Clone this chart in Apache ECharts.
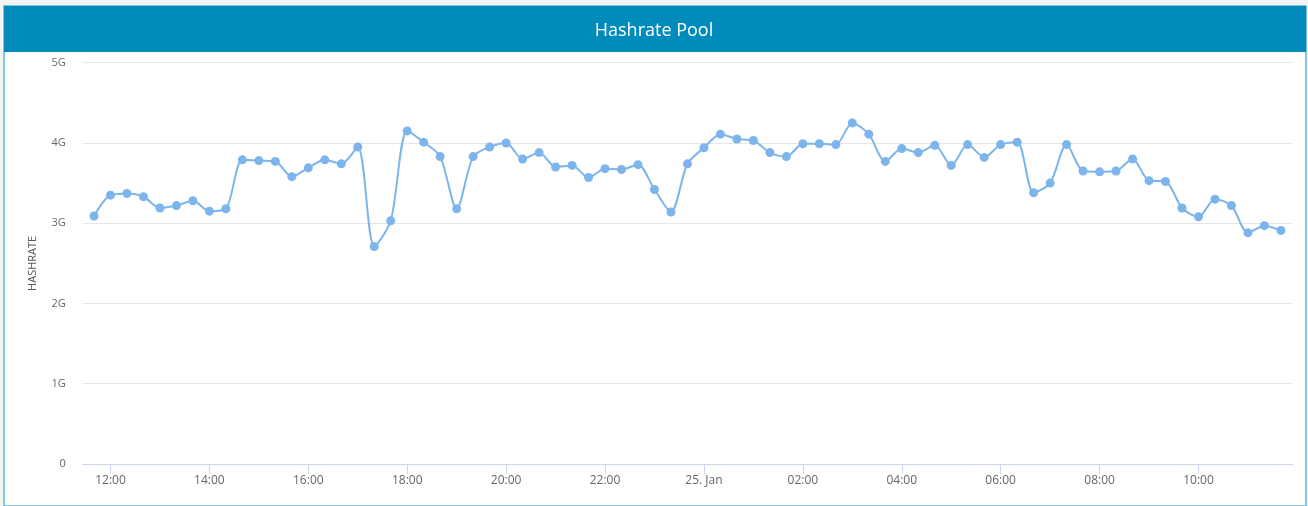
<!DOCTYPE html>
<html>
<head>
<meta charset="utf-8">
<script src="https://cdn.jsdelivr.net/npm/echarts@6/dist/echarts.min.js"></script>
<style>
html,body{margin:0;padding:0;background:#f4f4f4;}
#chart{width:1308px;height:506px;}
</style>
</head>
<body>
<div id="chart"></div>
<script>
// Time: hours since 24 Jan 00:00, one reading every 20 minutes from 11:40
var startHour = 11 + 40 / 60;
var stepHours = 20 / 60;
// Hashrate in G
var hashrate = [
  3.09, 3.35, 3.37, 3.33, 3.19, 3.22, 3.28, 3.15, 3.18, 3.79,
  3.78, 3.77, 3.58, 3.69, 3.79, 3.74, 3.95, 2.71, 3.03, 4.15,
  4.01, 3.83, 3.18, 3.83, 3.95, 4.00, 3.80, 3.88, 3.70, 3.72,
  3.57, 3.68, 3.67, 3.73, 3.42, 3.14, 3.74, 3.94, 4.11, 4.05,
  4.03, 3.88, 3.83, 3.99, 3.99, 3.98, 4.25, 4.11, 3.77, 3.93,
  3.88, 3.97, 3.72, 3.98, 3.82, 3.98, 4.01, 3.38, 3.50, 3.98,
  3.65, 3.64, 3.65, 3.80, 3.53, 3.52, 3.19, 3.08, 3.30, 3.22,
  2.88, 2.97, 2.91
];
var tickHours = [12, 14, 16, 18, 20, 22, 24, 26, 28, 30, 32, 34];
var tickLabels = ['12:00', '14:00', '16:00', '18:00', '20:00', '22:00', '25. Jan', '02:00', '04:00', '06:00', '08:00', '10:00'];
var yTicks = [0, 1, 2, 3, 4, 5];

var seriesData = hashrate.map(function (v, i) { return [startHour + i * stepHours, v]; });

var chart = echarts.init(document.getElementById('chart'));
chart.setOption({
  animation: false,
  backgroundColor: 'transparent',
  graphic: [
    { type: 'rect', z: -10, shape: { x: 4, y: 6, width: 1302, height: 500 }, style: { fill: '#ffffff', stroke: '#5ab8de', lineWidth: 1.5 } },
    { type: 'rect', z: -9, shape: { x: 4, y: 6, width: 1302, height: 46 }, style: { fill: '#018bbb' } }
  ],
  title: {
    text: 'Hashrate Pool',
    left: 'center',
    top: 17,
    textStyle: { color: '#ffffff', fontSize: 18, fontWeight: 'normal', fontFamily: 'Open Sans' }
  },
  grid: { left: 82.7, right: 15.3, top: 62.7, bottom: 42, containLabel: false },
  xAxis: {
    type: 'value',
    min: 11.438,
    max: 35.905,
    axisLine: { show: true, lineStyle: { color: '#ccd6eb', width: 1 } },
    axisTick: { show: true, length: 10, lineStyle: { color: '#ccd6eb' }, customValues: tickHours },
    splitLine: { show: false },
    axisLabel: {
      customValues: tickHours,
      margin: 11,
      color: '#666666',
      fontSize: 12,
      fontFamily: 'Open Sans',
      formatter: function (v) {
        var idx = tickHours.indexOf(Math.round(v));
        return idx >= 0 ? tickLabels[idx] : '';
      }
    }
  },
  yAxis: {
    type: 'value',
    min: yTicks[0],
    max: yTicks[yTicks.length - 1],
    interval: 1,
    name: 'HASHRATE',
    nameLocation: 'middle',
    nameRotate: 90,
    nameGap: 44,
    nameTextStyle: { color: '#555555', fontSize: 11, fontFamily: 'Open Sans' },
    axisLine: { show: false },
    axisTick: { show: false },
    splitLine: { lineStyle: { color: '#e6e6e6', width: 1 } },
    axisLabel: {
      margin: 17,
      color: '#666666',
      fontSize: 11,
      fontFamily: 'Open Sans',
      formatter: function (v) { return v === 0 ? '0' : v + 'G'; }
    }
  },
  series: [{
    type: 'line',
    data: seriesData,
    smooth: 0.28,
    symbol: 'circle',
    symbolSize: 9,
    showSymbol: true,
    itemStyle: { color: '#7cb5ec' },
    lineStyle: { color: '#7cb5ec', width: 2 }
  }]
});
</script>
</body>
</html>
